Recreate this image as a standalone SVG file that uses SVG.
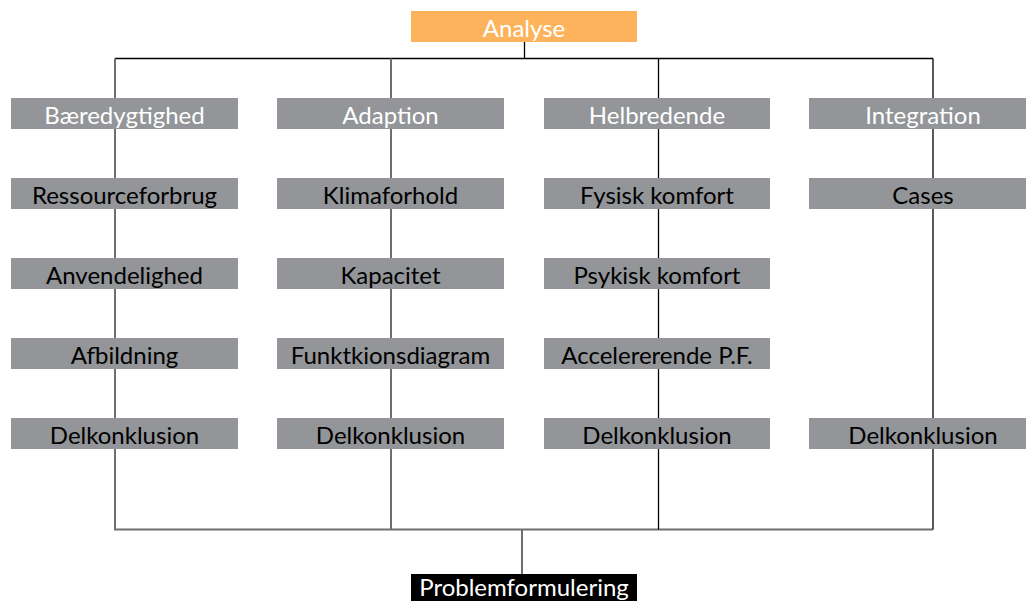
<svg xmlns="http://www.w3.org/2000/svg" width="1026" height="601" viewBox="0 0 1026 601">
<style>
.box{fill:#939598}
.t{font-family:Lato,"Open Sans",sans-serif;font-size:24px;text-anchor:middle;fill:#000}
.w{fill:#fff}
.ln{stroke:#000;stroke-width:1.3;fill:none}
.lg{stroke:#6d6e71;stroke-width:2;fill:none}
</style>
<rect width="1026" height="601" fill="#fff"/>
<g id="connectors">
<path class="ln" d="M524.5 42V58.5M115 58.5H933"/>
<path class="lg" d="M115 58.5V529.5H933"/>
<path class="lg" d="M391 58.5V529.5"/>
<path class="ln" d="M658.5 58.5V529.5M933 58.5V529.5"/>
<path class="lg" d="M522 529.5V574"/>
</g>
<g id="analyse"><rect x="411" y="11" width="226" height="31" fill="#fdb35b"/><text class="t w" x="524" y="37">Analyse</text></g>
<g id="baeredygtighed"><rect class="box" x="11" y="98" width="227" height="31"/><text class="t w" x="124.5" y="124">Bæredygtighed</text></g>
<g id="adaption"><rect class="box" x="277" y="98" width="227" height="31"/><text class="t w" x="390.5" y="124">Adaption</text></g>
<g id="helbredende"><rect class="box" x="544" y="98" width="226" height="31"/><text class="t w" x="657" y="124">Helbredende</text></g>
<g id="integration"><rect class="box" x="809" y="98" width="217" height="31"/><text class="t w" x="923" y="124">Integration</text></g>
<g id="ressourceforbrug"><rect class="box" x="11" y="178" width="227" height="31"/><text class="t" x="124.5" y="204">Ressourceforbrug</text></g>
<g id="klimaforhold"><rect class="box" x="277" y="178" width="227" height="31"/><text class="t" x="390.5" y="204">Klimaforhold</text></g>
<g id="fysisk"><rect class="box" x="544" y="178" width="226" height="31"/><text class="t" x="657" y="204">Fysisk komfort</text></g>
<g id="cases"><rect class="box" x="809" y="178" width="217" height="31"/><text class="t" x="923" y="204">Cases</text></g>
<g id="anvendelighed"><rect class="box" x="11" y="258" width="227" height="31"/><text class="t" x="124.5" y="284">Anvendelighed</text></g>
<g id="kapacitet"><rect class="box" x="277" y="258" width="227" height="31"/><text class="t" x="390.5" y="284">Kapacitet</text></g>
<g id="psykisk"><rect class="box" x="544" y="258" width="226" height="31"/><text class="t" x="657" y="284">Psykisk komfort</text></g>
<g id="afbildning"><rect class="box" x="11" y="338" width="227" height="31"/><text class="t" x="124.5" y="364">Afbildning</text></g>
<g id="funktkionsdiagram"><rect class="box" x="277" y="338" width="227" height="31"/><text class="t" x="390.5" y="364">Funktkionsdiagram</text></g>
<g id="accelererende"><rect class="box" x="544" y="338" width="226" height="31"/><text class="t" x="657" y="364">Accelererende P.F.</text></g>
<g id="delk1"><rect class="box" x="11" y="418" width="227" height="31"/><text class="t" x="124.5" y="444">Delkonklusion</text></g>
<g id="delk2"><rect class="box" x="277" y="418" width="227" height="31"/><text class="t" x="390.5" y="444">Delkonklusion</text></g>
<g id="delk3"><rect class="box" x="544" y="418" width="226" height="31"/><text class="t" x="657" y="444">Delkonklusion</text></g>
<g id="delk4"><rect class="box" x="809" y="418" width="217" height="31"/><text class="t" x="923" y="444">Delkonklusion</text></g>
<g id="problemformulering"><rect x="411" y="574" width="226" height="27" fill="#000"/><text class="t w" x="524" y="596">Problemformulering</text></g>
</svg>
